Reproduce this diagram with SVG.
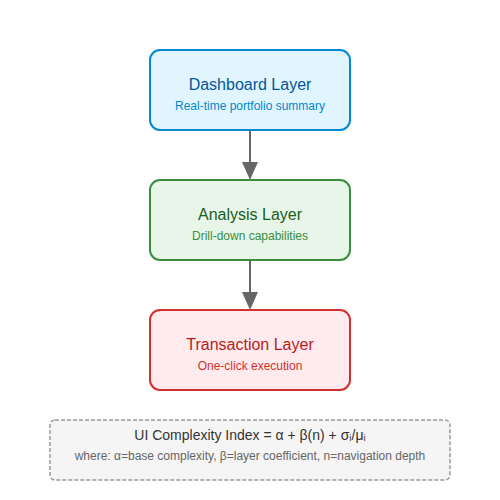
<svg xmlns="http://www.w3.org/2000/svg" width="500" height="500" viewBox="0 0 500 500">
<defs>
<marker id="arrow" markerWidth="8" markerHeight="9" refX="8" refY="4.5" orient="auto" markerUnits="userSpaceOnUse" viewBox="0 0 8 9">
<path d="M0,0 L8,4.5 L0,9 Z" fill="#666"/>
</marker>
<style>
text{font-family:"Liberation Sans",Arial,sans-serif;text-anchor:middle}
.box{stroke-width:2}
.t{font-size:16px}
.s{font-size:12px}
.conn{stroke:#666;stroke-width:2;fill:none}
</style>
</defs>
<rect width="500" height="500" fill="#fff"/>
<g id="connectors">
<line class="conn" x1="250" y1="130" x2="250" y2="164"/>
<path d="M242,162 L258,162 L250,180 Z" fill="#666"/>
<line class="conn" x1="250" y1="260" x2="250" y2="294"/>
<path d="M242,292 L258,292 L250,310 Z" fill="#666"/>
</g>
<g id="dashboard">
<rect class="box" x="150" y="50" width="200" height="80" rx="10" fill="#e1f5fe" stroke="#0288d1"/>
<text class="t" x="250" y="90" fill="#01579b">Dashboard Layer</text>
<text class="s" x="250" y="110" fill="#0288d1">Real-time portfolio summary</text>
</g>
<g id="analysis">
<rect class="box" x="150" y="180" width="200" height="80" rx="10" fill="#e8f5e9" stroke="#388e3c"/>
<text class="t" x="250" y="220" fill="#1b5e20">Analysis Layer</text>
<text class="s" x="250" y="240" fill="#388e3c">Drill-down capabilities</text>
</g>
<g id="transaction">
<rect class="box" x="150" y="310" width="200" height="80" rx="10" fill="#ffebee" stroke="#d32f2f"/>
<text class="t" x="250" y="350" fill="#b71c1c">Transaction Layer</text>
<text class="s" x="250" y="370" fill="#d32f2f">One-click execution</text>
</g>
<g id="formula">
<rect x="50" y="420" width="400" height="60" rx="5" fill="#f5f5f5" stroke="#999" stroke-width="1.5" stroke-dasharray="4,2"/>
<text x="250" y="440" font-size="14" fill="#333">UI Complexity Index = α + β(n) + σᵢ/μᵢ</text>
<text x="250" y="460" font-size="12" fill="#666">where: α=base complexity, β=layer coefficient, n=navigation depth</text>
</g>
</svg>
